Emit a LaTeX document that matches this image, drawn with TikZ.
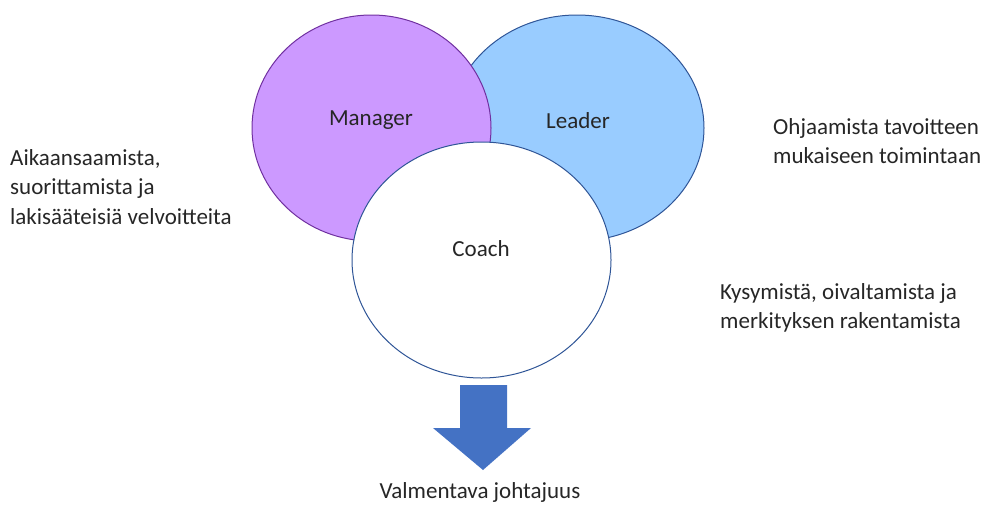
\documentclass[tikz,border=0pt]{standalone}
\usepackage{fontspec}
\setmainfont{Carlito}
\usetikzlibrary{shapes.geometric}
\definecolor{mgrfill}{HTML}{CC99FF}
\definecolor{mgrline}{HTML}{7030A0}
\definecolor{ldrfill}{HTML}{99CCFF}
\definecolor{bluline}{HTML}{2F5597}
\definecolor{arrowfill}{HTML}{4472C4}
\tikzset{
  circ/.style={ellipse, inner sep=0pt, line width=1pt},
  txt/.style={inner sep=0pt, align=left, text=black!85, font=\fontsize{23}{29.5}\selectfont}
}
\begin{document}
\begin{tikzpicture}[x=1pt, y=-1pt]
  \useasboundingbox (0,0) rectangle (982,504);
  % circles
  \node[circ, draw=bluline, fill=ldrfill, minimum width=254, minimum height=226] (ldr) at (577,128) {};
  \node[circ, draw=mgrline, fill=mgrfill, minimum width=239, minimum height=226] (mgr) at (371.5,128) {};
  \node[circ, draw=bluline, fill=white, minimum width=259, minimum height=236] (coach) at (481.5,260) {};
  \node[txt] (mgrtxt) at (371,120) {Manager};
  \node[txt] (ldrtxt) at (578,121) {Leader};
  \node[txt] (coachtxt) at (481,249) {Coach};
  % arrow
  \fill[arrowfill] (460,385) -- (507,385) -- (507,428) -- (531,428) -- (483,470)
    -- (433,428) -- (460,428) -- cycle;
  % texts
  \node[txt, anchor=west] (left) at (10,187) {Aikaansaamista,\\suorittamista ja\\lakisääteisiä velvoitteita};
  \node[txt, anchor=west] (ohj) at (773,141) {Ohjaamista tavoitteen\\mukaiseen toimintaan};
  \node[txt, anchor=west] (kys) at (720,308) {Kysymistä, oivaltamista ja\\merkityksen rakentamista};
  \node[txt] (valm) at (480,492) {Valmentava johtajuus};
\end{tikzpicture}
\end{document}
